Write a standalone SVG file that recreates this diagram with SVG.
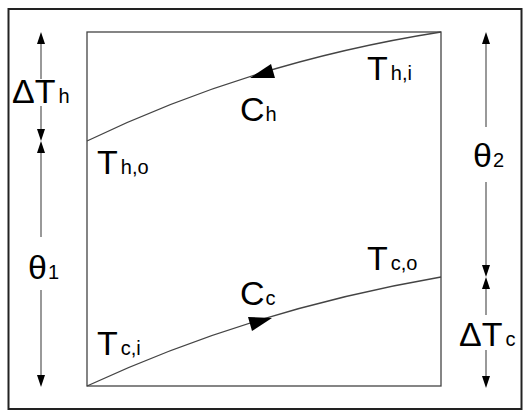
<svg xmlns="http://www.w3.org/2000/svg" width="531" height="417" viewBox="0 0 531 417">
<style>
.t{font-family:"Liberation Sans",Arial,sans-serif;font-size:34px;fill:#000}
.s{font-size:20px}
.ln{fill:none;stroke:#444;stroke-width:1.3}
.dim{stroke:#555;stroke-width:1.2;fill:none}
.ah{fill:#000}
</style>
<rect width="531" height="417" fill="#fff"/>
<rect x="8.5" y="9" width="513" height="400" fill="none" stroke="#222" stroke-width="2"/>
<g id="exchanger">
<rect x="87" y="32" width="354" height="354" class="ln"/>
</g>
<g id="connectors">
<path id="hot" class="ln" d="M87,141 Q250,62 441,32"/>
<path id="cold" class="ln" d="M87,386 Q250,310 441,277"/>
<polygon class="ah" points="250,78 271,64 275,78"/>
<polygon class="ah" points="272,318 248,317 252,331"/>
<line class="dim" x1="41" y1="40" x2="41" y2="79"/>
<line class="dim" x1="41" y1="106" x2="41" y2="134"/>
<line class="dim" x1="41" y1="148" x2="41" y2="237"/>
<line class="dim" x1="41" y1="290" x2="41" y2="378"/>
<polygon class="ah" points="41,32 37,44 45,44"/>
<polygon class="ah" points="41,141 37,129 45,129"/>
<polygon class="ah" points="41,141 37,153 45,153"/>
<polygon class="ah" points="41,387 37,375 45,375"/>
<line class="dim" x1="486" y1="40" x2="486" y2="127"/>
<line class="dim" x1="486" y1="182" x2="486" y2="270"/>
<line class="dim" x1="486" y1="284" x2="486" y2="315"/>
<line class="dim" x1="486" y1="350" x2="486" y2="380"/>
<polygon class="ah" points="486,32 482,44 490,44"/>
<polygon class="ah" points="486,277 482,265 490,265"/>
<polygon class="ah" points="486,277 482,289 490,289"/>
<polygon class="ah" points="486,388 482,376 490,376"/>
</g>
<g id="labels">
<text class="t" x="12" y="103">ΔT<tspan class="s" dx="3">h</tspan></text>
<text class="t" x="97" y="174">T<tspan class="s" dx="3">h,o</tspan></text>
<text class="t" x="28" y="279">θ<tspan class="s" dx="1">1</tspan></text>
<text class="t" x="97" y="355">T<tspan class="s" dx="3">c,i</tspan></text>
<text class="t" x="240" y="121">C<tspan class="s" dx="1">h</tspan></text>
<text class="t" x="240" y="305">C<tspan class="s" dx="1">c</tspan></text>
<text class="t" x="367" y="80">T<tspan class="s" dx="3">h,i</tspan></text>
<text class="t" x="367" y="270">T<tspan class="s" dx="3">c,o</tspan></text>
<text class="t" x="473" y="167">θ<tspan class="s" dx="1">2</tspan></text>
<text class="t" x="459" y="346">ΔT<tspan class="s" dx="3">c</tspan></text>
</g>
</svg>
